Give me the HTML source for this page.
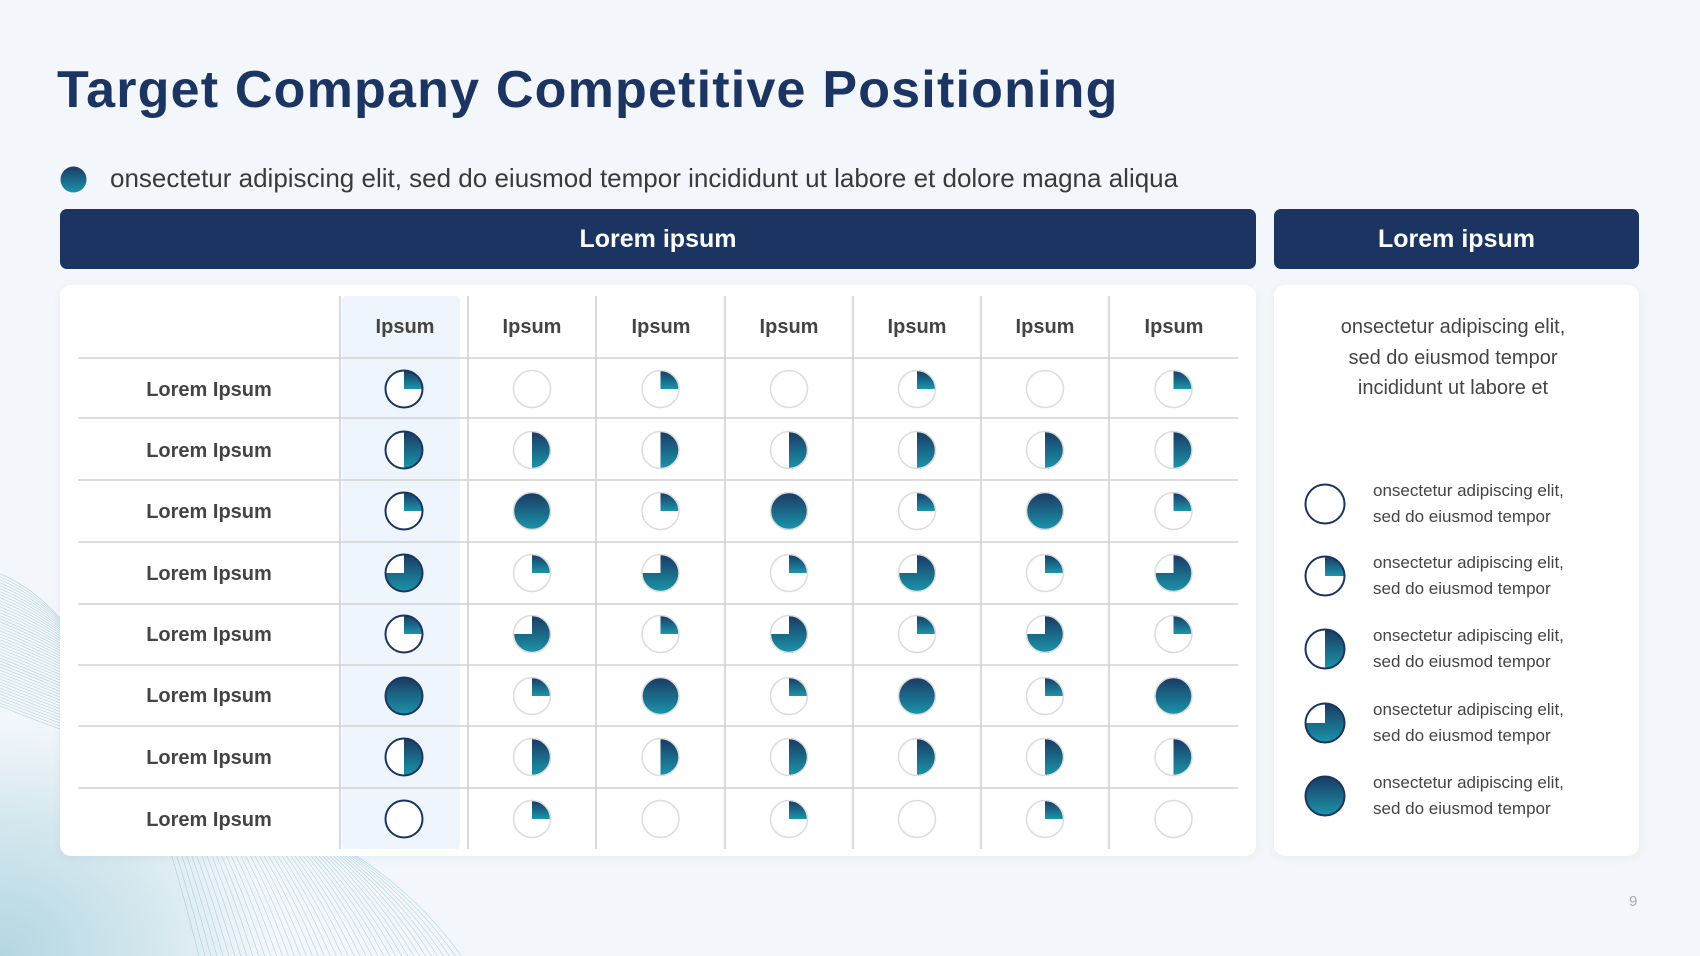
<!DOCTYPE html>
<html><head><meta charset="utf-8"><style>
body{margin:0;width:1700px;height:956px;overflow:hidden;background:#f3f7fb;font-family:"Liberation Sans",sans-serif;position:relative}
.abs{position:absolute}
.title{left:57px;top:60px;font-size:52px;font-weight:bold;color:#1b3461;letter-spacing:1.2px;white-space:nowrap}
.sub{left:110px;top:163px;font-size:26px;color:#3a3a3a;white-space:nowrap}
.bar{background:#1b3461;color:#fff;font-weight:bold;font-size:25px;display:flex;align-items:center;justify-content:center;border-radius:7px}
.card{background:#fff;border-radius:11px;box-shadow:0 2px 10px rgba(30,60,100,0.06)}
.rt{left:1274px;width:358px;top:312px;text-align:center;font-size:20px;line-height:30.5px;color:#444}
.lg{left:1373px;font-size:17px;line-height:26px;color:#444;white-space:nowrap}
</style></head><body>
<svg class="abs" style="left:0;top:0" width="1700" height="956">
<defs>
<radialGradient id="bg" cx="0" cy="1" r="0.6" gradientTransform="scale(0.9,1)">
<stop offset="0" stop-color="#b2d7e1"/><stop offset="0.6" stop-color="#d6e8ef"/><stop offset="1" stop-color="#f3f7fb"/></radialGradient>
</defs>
<rect x="0" y="560" width="500" height="396" fill="url(#bg)"/>
<g fill="none" stroke="#8cbccb" stroke-width="0.6" opacity="0.6" id="waves"></g>
</svg>
<div class="abs title">Target Company Competitive Positioning</div>
<svg class="abs" style="left:60px;top:166px" width="27" height="27"><defs><linearGradient id="g0" x1="0" y1="0" x2="0" y2="1"><stop offset="0" stop-color="#1b3a63"/><stop offset="1" stop-color="#1a95aa"/></linearGradient></defs><circle cx="13.5" cy="13.5" r="13" fill="url(#g0)"/></svg>
<div class="abs sub">onsectetur adipiscing elit, sed do eiusmod tempor incididunt ut labore et dolore magna aliqua</div>
<div class="abs bar" style="left:60px;top:209px;width:1196px;height:60px">Lorem ipsum</div>
<div class="abs bar" style="left:1274px;top:209px;width:365px;height:60px">Lorem ipsum</div>
<div class="abs card" style="left:60px;top:285px;width:1196px;height:571px"></div>
<div class="abs card" style="left:1274px;top:285px;width:365px;height:571px"></div>
<svg class="abs" style="left:0;top:0" width="1700" height="956" id="tbl">
<defs><linearGradient id="g" x1="0" y1="0" x2="0" y2="1"><stop offset="0" stop-color="#1b3a63"/><stop offset="1" stop-color="#1a95aa"/></linearGradient></defs>
<rect x="342" y="296" width="118" height="553" fill="#eef5fc" rx="4"/>
<g font-family="Liberation Sans" font-weight="bold" font-size="20" fill="#444" text-anchor="middle">
<text x="405" y="333">Ipsum</text><text x="532" y="333">Ipsum</text><text x="661" y="333">Ipsum</text><text x="789" y="333">Ipsum</text><text x="917" y="333">Ipsum</text><text x="1045" y="333">Ipsum</text><text x="1174" y="333">Ipsum</text>
<text x="209" y="396">Lorem Ipsum</text><text x="209" y="457">Lorem Ipsum</text><text x="209" y="518">Lorem Ipsum</text><text x="209" y="580">Lorem Ipsum</text><text x="209" y="641">Lorem Ipsum</text><text x="209" y="702">Lorem Ipsum</text><text x="209" y="764">Lorem Ipsum</text><text x="209" y="826">Lorem Ipsum</text>
</g>
<g id="lines" stroke="#d2d2d2" stroke-width="1.6"></g>
<g id="pies"></g>
</svg>
<div class="abs rt">onsectetur adipiscing elit,<br>sed do eiusmod tempor<br>incididunt ut labore et</div>
<div class="abs lg" style="top:478px">onsectetur adipiscing elit,<br>sed do eiusmod tempor</div>
<div class="abs lg" style="top:550px">onsectetur adipiscing elit,<br>sed do eiusmod tempor</div>
<div class="abs lg" style="top:623px">onsectetur adipiscing elit,<br>sed do eiusmod tempor</div>
<div class="abs lg" style="top:697px">onsectetur adipiscing elit,<br>sed do eiusmod tempor</div>
<div class="abs lg" style="top:770px">onsectetur adipiscing elit,<br>sed do eiusmod tempor</div>
<div class="abs" style="left:1629px;top:893px;font-size:15px;color:#aaa">9</div>
<script>
var NS="http://www.w3.org/2000/svg";
function el(p,t,a){var e=document.createElementNS(NS,t);for(var k in a)e.setAttribute(k,a[k]);p.appendChild(e);return e;}
var L=document.getElementById('lines');
var cols=[340,468,596,725,853,981,1109,1238];
cols.slice(0,7).forEach(function(x){el(L,'line',{x1:x,y1:296,x2:x,y2:849});});
var rows=[358,418,480,542,604,665,726,788];
rows.forEach(function(y){el(L,'line',{x1:78,y1:y,x2:1238,y2:y});});
function pie(p,cx,cy,r,v,stroke,sw){
 el(p,'circle',{cx:cx,cy:cy,r:r,fill:'#fff'});
 if(v==1)el(p,'path',{d:'M'+cx+','+cy+'L'+cx+','+(cy-r)+'A'+r+','+r+' 0 0 1 '+(cx+r)+','+cy+'Z',fill:'url(#g)'});
 if(v==2)el(p,'path',{d:'M'+cx+','+(cy-r)+'A'+r+','+r+' 0 0 1 '+cx+','+(cy+r)+'Z',fill:'url(#g)'});
 if(v==3)el(p,'path',{d:'M'+cx+','+cy+'L'+cx+','+(cy-r)+'A'+r+','+r+' 0 1 1 '+(cx-r)+','+cy+'Z',fill:'url(#g)'});
 if(v==4)el(p,'circle',{cx:cx,cy:cy,r:r,fill:'url(#g)'});
 el(p,'circle',{cx:cx,cy:cy,r:r,fill:'none',stroke:stroke,'stroke-width':sw});
}
var P=document.getElementById('pies');
var data=[[1,0,1,0,1,0,1],[2,2,2,2,2,2,2],[1,4,1,4,1,4,1],[3,1,3,1,3,1,3],[1,3,1,3,1,3,1],[4,1,4,1,4,1,4],[2,2,2,2,2,2,2],[0,1,0,1,0,1,0]];
var cys=[389,450,511,573,634,696,757,819];
data.forEach(function(r,i){r.forEach(function(v,j){var cx=(cols[j]+cols[j+1])/2;
 if(j==0)pie(P,cx,cys[i],18.5,v,'#1b3461',2);else pie(P,cx,cys[i],18.5,v,'#dcdcdc',1.5);});});
[0,1,2,3,4].forEach(function(v,i){pie(P,1325,[504,576,649,723,796][i],19.5,v,'#1b3461',2);});
var W=document.getElementById('waves');
for(var i=0;i<45;i++){var o=i*10;
 el(W,'path',{d:'M-10,'+(570+i*3)+' C'+(80+o*0.2)+','+(600+i*4)+' '+(140+o*0.5)+','+(720+i*2)+' '+(200+o*0.6)+',960'});}
</script>
</body></html>
